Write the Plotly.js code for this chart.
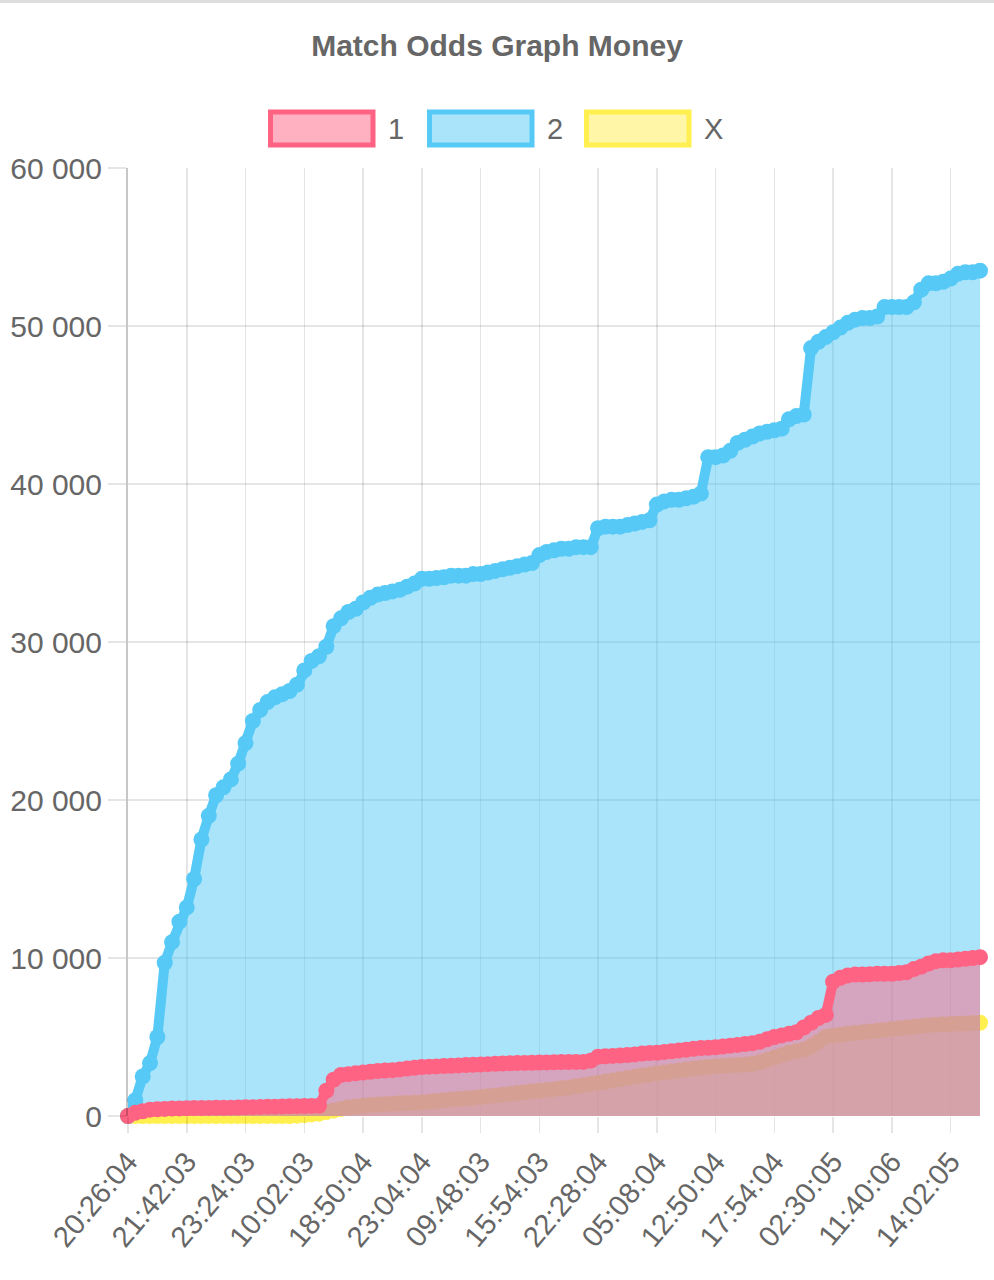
<!DOCTYPE html>
<html>
<head>
<meta charset="utf-8">
<script src="https://cdn.plot.ly/plotly-3.0.1.min.js"></script>
<style>
  html, body { margin: 0; padding: 0; background: #ffffff; }
  #chart { width: 994px; height: 1280px; }
</style>
</head>
<body>
<div id="chart"></div>
<script>
// tick labels shown under the x axis (one every few points)
const tickLabels = ['20:26:04', '21:42:03', '23:24:03', '10:02:03', '18:50:04', '23:04:04', '09:48:03',
  '15:54:03', '22:28:04', '05:08:04', '12:50:04', '17:54:04', '02:30:05', '11:40:06', '14:02:05'];
const pointsPerTick = 8;

const seriesNames = ['1', '2', 'X'];

// money on "1"
const money1 = [
  0, 200, 300, 400, 420, 450, 470, 480, 490, 500,
  500, 510, 520, 520, 530, 540, 550, 560, 570, 580,
  590, 600, 610, 620, 630, 640, 650, 1600, 2300, 2600,
  2650, 2700, 2750, 2800, 2850, 2880, 2900, 2950, 3000, 3050,
  3100, 3120, 3140, 3160, 3180, 3200, 3220, 3240, 3260, 3280,
  3300, 3320, 3340, 3350, 3360, 3370, 3380, 3390, 3400, 3410,
  3410, 3420, 3420, 3500, 3750, 3780, 3800, 3830, 3860, 3900,
  3950, 3980, 4000, 4050, 4100, 4150, 4200, 4250, 4300, 4320,
  4350, 4400, 4450, 4500, 4550, 4600, 4700, 4850, 5000, 5100,
  5200, 5300, 5600, 5900, 6200, 6400, 8500, 8750, 8900, 8950,
  8950, 8970, 9000, 9000, 9000, 9050, 9100, 9300, 9450, 9650,
  9800, 9850, 9850, 9900, 9950, 10000, 10050
];

// money on "2"
const money2 = [
  0, 1000, 2500, 3350, 5000, 9700, 11000, 12300, 13200, 15000,
  17500, 19000, 20300, 20800, 21300, 22300, 23600, 25000, 25700, 26200,
  26500, 26700, 26900, 27300, 28200, 28800, 29100, 29700, 31000, 31500,
  31900, 32100, 32500, 32800, 33000, 33100, 33200, 33300, 33500, 33700,
  34000, 34000, 34050, 34100, 34200, 34200, 34200, 34300, 34300, 34400,
  34500, 34600, 34700, 34800, 34900, 35000, 35500, 35700, 35800, 35900,
  35900, 36000, 36000, 36000, 37200, 37300, 37300, 37300, 37400, 37500,
  37600, 37700, 38700, 38900, 39000, 39000, 39100, 39200, 39400, 41700,
  41700, 41800, 42100, 42600, 42800, 43000, 43200, 43300, 43400, 43500,
  44100, 44300, 44400, 48600, 49000, 49300, 49600, 49900, 50200, 50400,
  50500, 50500, 50600, 51200, 51200, 51200, 51200, 51500, 52300, 52700,
  52700, 52800, 53000, 53300, 53400, 53400, 53500
];

// money on "X"
const moneyX = [
  0, 0, 0, 0, 0, 0, 0, 0, 0, 0,
  0, 0, 0, 0, 0, 0, 0, 0, 0, 0,
  0, 0, 0, 20, 50, 100, 150, 250, 350, 450,
  550, 600, 650, 700, 720, 750, 780, 800, 820, 840,
  860, 900, 950, 1000, 1050, 1080, 1120, 1150, 1200, 1250,
  1300, 1350, 1400, 1450, 1500, 1560, 1600, 1650, 1700, 1750,
  1800, 1880, 1950, 2030, 2100, 2180, 2250, 2330, 2400, 2480,
  2560, 2630, 2700, 2760, 2820, 2880, 2940, 3000, 3050, 3100,
  3150, 3170, 3200, 3230, 3260, 3300, 3400, 3550, 3700, 3850,
  4000, 4100, 4200, 4400, 4700, 5000, 5100, 5150, 5200, 5250,
  5300, 5350, 5400, 5450, 5500, 5550, 5600, 5650, 5700, 5750,
  5780, 5800, 5820, 5840, 5860, 5880, 5900
];

const red = 'rgb(255, 99, 132)';
const blue = 'rgb(86, 201, 246)';
const yellow = 'rgb(255, 240, 80)';
const alpha = c => c.replace('rgb', 'rgba').replace(')', ', 0.5)');

function lineTrace(name, values, color) {
  return {
    type: 'scatter',
    mode: 'lines+markers',
    name: name,
    x: values.map((_, i) => i),
    y: values,
    fill: 'tozeroy',
    fillcolor: alpha(color),
    line: { color: color, width: 10 },
    marker: { color: color, size: 16 },
    cliponaxis: false,
    hoverinfo: 'skip'
  };
}

// X drawn first (bottom), then 2, then 1 on top
const data = [
  lineTrace(seriesNames[2], moneyX, yellow),
  lineTrace(seriesNames[1], money2, blue),
  lineTrace(seriesNames[0], money1, red)
];

// plot area in pixels, used to place the hand-made legend
const M = { l: 128, r: 14, t: 168, b: 164 };
const plotW = 994 - M.l - M.r;
const plotH = 1280 - M.t - M.b;
const px = x => (x - M.l) / plotW;
const py = y => (1280 - M.b - y) / plotH;

const legendColors = [red, blue, yellow];
const legendBoxX = [268, 427, 584];
const shapes = [];
const annotations = [];
seriesNames.forEach((name, k) => {
  shapes.push({
    type: 'rect', xref: 'paper', yref: 'paper',
    x0: px(legendBoxX[k] + 2.5), x1: px(legendBoxX[k] + 105),
    y0: py(145), y1: py(112),
    line: { color: legendColors[k], width: 5 },
    fillcolor: alpha(legendColors[k])
  });
  annotations.push({
    xref: 'paper', yref: 'paper',
    x: px(legendBoxX[k] + 118), y: py(129),
    xanchor: 'left', yanchor: 'middle',
    text: name, showarrow: false,
    font: { family: 'Liberation Sans, Arial, sans-serif', size: 29, color: '#666666' }
  });
});
// thin grey line at the very top of the page
shapes.push({
  type: 'line', xref: 'paper', yref: 'paper',
  x0: px(0), x1: px(994), y0: py(1.5), y1: py(1.5),
  line: { color: '#dddddd', width: 3 }
});

const gridColor = 'rgba(0,0,0,0.1)';

const layout = {
  width: 994,
  height: 1280,
  margin: M,
  paper_bgcolor: '#ffffff',
  plot_bgcolor: '#ffffff',
  showlegend: false,
  separators: '. ',
  font: { family: 'Liberation Sans, Arial, sans-serif', color: '#666666' },
  title: {
    text: '<b>Match Odds Graph Money</b>',
    xref: 'container', x: 0.5, xanchor: 'center',
    yref: 'container', y: 1 - 45 / 1280, yanchor: 'middle',
    font: { family: 'Liberation Sans, Arial, sans-serif', size: 30, color: '#666666' }
  },
  xaxis: {
    range: [0, money2.length - 1],
    tickvals: tickLabels.map((_, k) => k * pointsPerTick),
    ticktext: tickLabels,
    tickangle: -50,
    tickfont: { size: 29, color: '#666666' },
    ticks: 'outside', ticklen: 16, tickcolor: gridColor, tickwidth: 1.5,
    showgrid: true, gridcolor: gridColor, gridwidth: 1.5,
    zeroline: false,
    showline: false
  },
  yaxis: {
    range: [0, 60000],
    dtick: 10000,
    tickformat: ',d',
    tickfont: { size: 30, color: '#666666' },
    ticks: 'outside', ticklen: 18, tickcolor: gridColor, tickwidth: 1.5,
    showgrid: true, gridcolor: gridColor, gridwidth: 1.5,
    zeroline: false,
    showline: true, linecolor: 'rgba(0,0,0,0.22)', linewidth: 2
  },
  shapes: shapes,
  annotations: annotations
};

Plotly.newPlot('chart', data, layout, { displayModeBar: false, staticPlot: true });
</script>
</body>
</html>
